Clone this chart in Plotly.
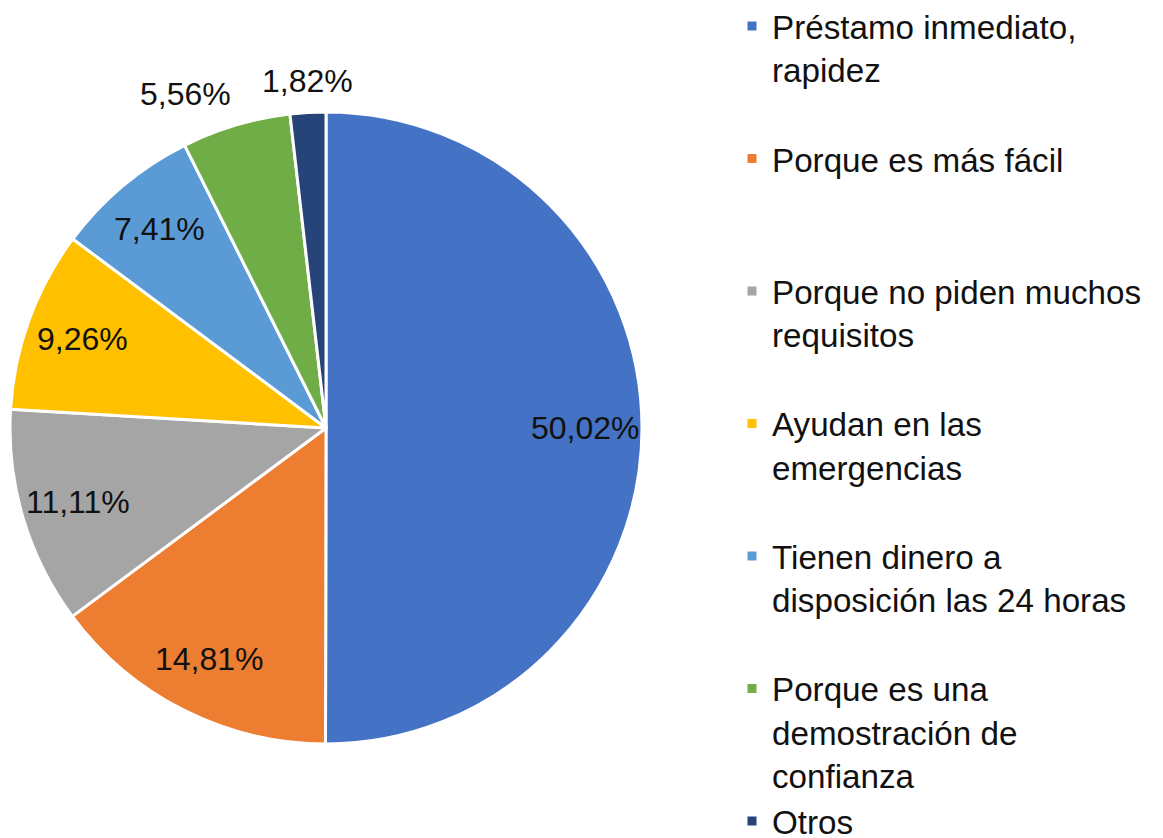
import math
import plotly.graph_objects as go

# ---- data ----
categories = [
    ["Préstamo inmediato,", "rapidez"],
    ["Porque es más fácil"],
    ["Porque no piden muchos", "requisitos"],
    ["Ayudan en las", "emergencias"],
    ["Tienen dinero a", "disposición las 24 horas"],
    ["Porque es una", "demostración de", "confianza"],
    ["Otros"],
]
percent_values = [50.02, 14.81, 11.11, 9.26, 7.41, 5.56, 1.82]
slice_colors = ["#4472C4", "#ED7D31", "#A5A5A5", "#FFC000", "#5B9BD5", "#70AD47", "#264478"]
label_outside = [False, False, False, False, False, True, True]

# ---- layout constants ----
W, H = 1163, 838
OFF = 8  # browser body margin compensation (px)
TEXT_COLOR = "#111111"
FONT = "Liberation Sans, Arial, sans-serif"

# pie domain in pixels (left, right, top, bottom) of the page
pie_px = (10 - OFF, 642 - OFF, 112 - OFF, 744 - OFF)
dom_x = [pie_px[0] / W, pie_px[1] / W]
dom_y = [1 - pie_px[3] / H, 1 - pie_px[2] / H]

# ---- legend texts ----
LINES_PER_ITEM = 3
legend_labels = []
for i, lines in enumerate(categories):
    pad = max(0, LINES_PER_ITEM - len(lines)) if i < len(categories) - 1 else 0
    legend_labels.append("<br>".join(lines) + "<br> " * pad)

slice_texts = [f"{v:.2f}".replace(".", ",") + "%" for v in percent_values]

fig = go.Figure(
    go.Pie(
        labels=legend_labels,
        values=percent_values,
        textinfo="none",
        sort=False,
        direction="clockwise",
        rotation=0,
        marker=dict(colors=slice_colors, line=dict(color="white", width=3)),
        domain=dict(x=dom_x, y=dom_y),
        hoverinfo="skip",
    )
)

# ---- data labels, placed along each slice's mid-angle (Excel-like best fit) ----
cx = (dom_x[0] + dom_x[1]) / 2 * W
cy = (1 - (dom_y[0] + dom_y[1]) / 2) * H
R = min((dom_x[1] - dom_x[0]) * W, (dom_y[1] - dom_y[0]) * H) / 2
total = sum(percent_values)
cum = 0.0
annotations = []
for v, txt, outside in zip(percent_values, slice_texts, label_outside):
    mid = (cum + v / 2) / total * 2 * math.pi
    cum += v
    s, c = math.sin(mid), math.cos(mid)
    if outside:
        r = R + 12
        xa = "center" if abs(s) < 0.1 else ("right" if s < 0 else "left")
        ya = "bottom" if c > 0 else "top"
    else:
        r = 0.82 * R
        xa, ya = "center", "middle"
    px = cx + r * s
    py = cy - r * c
    annotations.append(dict(
        x=px / W, y=1 - py / H, xref="paper", yref="paper",
        text=txt, showarrow=False, xanchor=xa, yanchor=ya,
        font=dict(family=FONT, size=32, color=TEXT_COLOR),
    ))

fig.update_layout(
    width=W,
    height=H,
    margin=dict(l=0, r=0, t=0, b=0, autoexpand=False),
    paper_bgcolor="white",
    plot_bgcolor="white",
    font=dict(family=FONT, color=TEXT_COLOR),
    annotations=annotations,
    showlegend=True,
    legend=dict(
        x=(732 - OFF) / W,
        xanchor="left",
        y=1 + 10 / H,
        yanchor="top",
        valign="top",
        font=dict(size=33.2, color=TEXT_COLOR),
        bgcolor="rgba(0,0,0,0)",
        maxheight=2000,
    ),
)

fig.write_html("out.html")
